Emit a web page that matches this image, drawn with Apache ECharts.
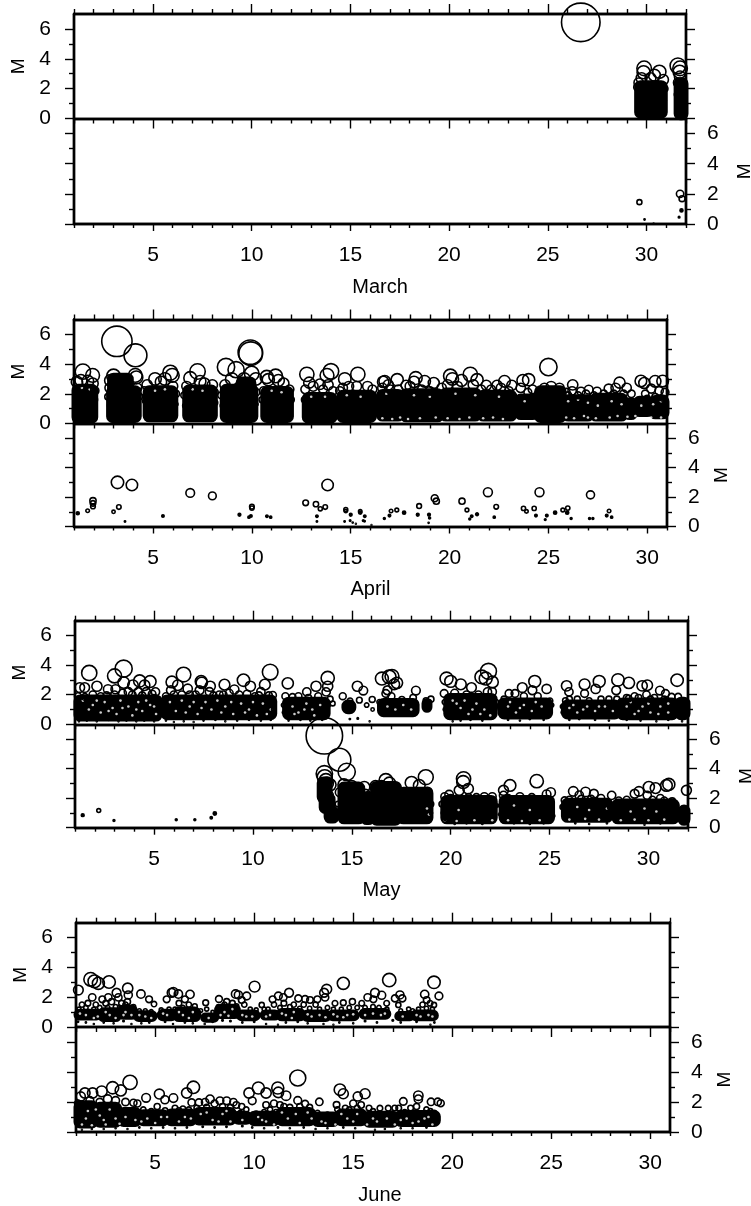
<!DOCTYPE html>
<html><head><meta charset="utf-8">
<style>html,body{margin:0;padding:0;background:#fff}#c{width:751px;height:1206px}</style>
<script src="https://cdn.jsdelivr.net/npm/echarts@6/dist/echarts.min.js"></script></head>
<body><div id="c"></div>
<script>
// Events are [day, magnitude]. Where the source is saturated and single events cannot be read,
// "Mass" arrays hold the black extent: [dayFrom, dayTo, Mlow, Mhigh].
// "Gap" arrays hold the white specks seen inside that mass: [day, magnitude].
const marTopEvents=[[26.67,6.44],[29.88,3.36],[29.85,3.1],[29.75,2.7],[29.6,2.4],[29.55,2.1],[29.6,1.5],[29.65,.8],[30.65,3.13],[30.4,2.9],[30.2,2.7],[30.85,2.6],[30.9,2.0],[30.9,1.2],[31.59,3.53],[31.7,3.36],[31.68,3.13],[31.7,2.8],[31.6,2.4],[31.55,1.6]];
const marTopMass=[[29.5,30.95,0.15,2.4],[31.5,32,0.05,2.6]];
const marLowEvents=[[29.64,1.45],[31.7,2],[31.8,1.68],[31.77,0.9],[31.65,0.45],[29.9,0.3],[30.36,0.05]];
const aprTopEvents=[[3.17,5.53],[4.11,4.59],[1.45,3.49],[1.94,3.24],[1.15,2.8],[1.35,2.9],[1.7,2.85],[1.95,2.7],[2.05,2.2],[2.05,1.6],[2.05,1,],[4.1,3.24],[4.15,3.1],[3.0,3.2],[2.85,2.9],[2.8,2.4],[2.72,1.8],[2.8,1.2],[2.9,.5],[4.2,2.4],[4.3,1.8],[4.2,1.2],[4.1,.5],[5.1,3.0],[5.87,3.42],[5.97,3.24],[4.7,2.6],[5.4,2.8],[5.6,3.0],[6.0,2.5],[4.55,2.2],[4.6,1.5],[4.7,.7],[6.15,2],[6.15,1.3],[6.1,.6],[7.25,3.5],[6.88,3.06],[7.38,2.84],[8.0,2.6],[7.6,2.7],[6.7,2.5],[6.58,1.9],[6.6,1.2],[6.7,.5],[8.1,2.1],[8.15,1.4],[8.1,.6],[8.69,3.8],[9.2,3.62],[8.98,3.0],[8.64,2.6],[8.45,1.9],[8.5,1.2],[8.6,.5],[9.92,4.8],[9.94,4.7],[9.99,3.36],[10.2,3.0],[9.6,3.0],[10.2,2.1],[10.2,1.3],[10.15,.6],[10.75,3.13],[11.2,3.2],[10.83,2.95],[11.34,2.9],[11.6,2.7],[10.6,2.2],[11.9,2.3],[10.5,1.6],[10.6,.8],[12,1.6],[11.95,.9],[12.78,3.31],[12.9,2.75],[14.0,3.51],[13.8,3.24],[13.44,2.64],[13.85,2.6],[13.1,2.5],[12.7,2.3],[13.6,2.3],[14.1,2.2],[12.65,1.6],[12.7,.9],[14.2,1.5],[14.15,.8],[14.7,3.0],[15.36,3.31],[15.85,2.5],[14.6,2.4],[14.9,2.5],[15.3,2.5],[16.1,2.3],[14.45,2.2],[14.4,1.5],[14.45,.8],[16.2,1.6],[16.2,.9],[16.64,2.8],[16.72,2.84],[16.6,2.4],[16.9,2.6],[17.35,2.95],[17.8,2.57],[18.29,3.06],[18.2,2.8],[18.74,2.84],[19.2,2.73],[18.0,2.5],[19.6,2.4],[20.04,3.2],[20.14,3.0],[20.6,2.9],[19.9,2.6],[20.4,2.5],[21.05,3.31],[21.39,2.95],[21.86,2.57],[21.2,2.6],[22.78,2.84],[22.4,2.57],[23.15,2.57],[22.6,2.4],[23.71,2.9],[24.0,2.95],[24.2,2.3],[23.96,2.1],[23.6,2.4],[25.0,3.8],[26.23,2.6],[25.56,2.4],[25.14,2.5],[24.8,2.4],[25.9,2.1],[26.2,2.2],[26.65,2.17],[27.04,2.28],[27.46,2.17],[26.9,2.0],[27.8,2.0],[28.05,2.35],[28.6,2.75],[28.4,2.4],[28.96,2.4],[29.2,2.0],[29.68,2.86],[29.85,2.73],[30.4,2.84],[30.78,2.86],[30.2,2.35],[30.6,2.2],[29.9,2.0],[30.9,2.1],[17,2.3],[17.4,2.3],[18.6,2.3],[19,2.2],[21.6,2.3],[22.1,2.3],[23,2.2],[26,1.9],[26.5,1.9],[27.3,1.9],[27.6,1.8],[28.3,2],[28.8,2],[30,1.7],[30.4,1.8],[30.8,1.7]];
const aprTopMass=[[1.0,2.1,0.15,2.5],[2.8,3.9,0.2,3.25],[2.75,4.3,0.2,2.4],[4.6,6.15,0.25,2.4],[6.6,8.15,0.25,2.45],[8.5,10.2,0.2,2.5],[9.3,10.1,1,3.0],[10.55,12,0.2,2.35],[12.65,14.2,0.15,1.95],[14.4,16.2,0.2,2.1],[16.4,17.6,0.3,2.15],[17.6,19.6,0.25,2.2],[19.6,21.5,0.3,2.25],[21.5,23.3,0.3,2.1],[23.4,24.4,0.4,1.85],[24.4,25.8,0.2,2.4],[25.8,27.2,0.3,1.8],[27.2,28.9,0.3,1.9],[28.9,29.4,0.4,1.6],[29.4,30.2,0.6,1.7],[30.2,31,0.45,1.75]];
const aprTopGap=[[16.6,.35],[17.1,.3],[17.5,.4],[17.9,.3],[18.5,.35],[19.3,.4],[19.9,.35],[20.5,.3],[21.0,.4],[21.7,.35],[22.2,.4],[22.7,.3],[25.9,.4],[26.3,.35],[26.8,.5],[27,.4],[27.4,.35],[28.1,.4],[28.5,.5],[29.0,.45],[29.4,.5],[30.2,.4],[30.7,.4],[26,1.5],[26.5,1.6],[27.0,1.4],[27.5,1.2],[28.2,1.5],[28.7,1.3],[29.7,1.2],[30.3,1.3],[30.7,1.5],[23.8,1.5],[16.8,2.0],[18.2,1.9],[19.0,1.8],[20.3,2.0],[21.3,1.9],[22.5,1.8],[1.4,2.4],[1.8,2.3],[5.1,2.2],[5.6,2.3],[7,2.3],[7.5,2.2],[11,2.2],[11.5,2.1],[13,1.8],[13.7,1.8],[14.8,1.9],[15.5,1.8]];
const aprLowEvents=[[3.2,3.0],[3.93,2.82],[6.88,2.28],[8.0,2.08],[13.83,2.82],[12.72,1.61],[13.24,1.52],[13.71,1.32],[13.46,1.2],[1.96,1.75],[1.96,1.57],[1.96,1.36],[3.27,1.32],[3.0,1.0],[1.69,1.07],[1.19,0.9],[3.58,.34],[5.5,.72],[9.37,.8],[10,1.25],[10,1.35],[9.85,.63],[9.95,.72],[10.76,.7],[10.95,.63],[13.29,.7],[13.29,.34],[14.75,1.16],[14.75,1.05],[15,.8],[14.69,.34],[14.97,.4],[15.1,.27],[15.26,.18],[15.48,1.03],[15.48,.95],[15.71,.7],[15.63,.4],[15.7,.35],[16.05,.11],[16.7,.54],[16.96,.74],[17.04,1.05],[17.33,1.12],[17.7,.94],[18.39,.8],[18.46,1.39],[18.96,.8],[18.99,.58],[18.94,.25],[19.25,1.92],[19.33,1.72],[20.63,1.72],[20.88,1.12],[21.12,.7],[21.02,.51],[21.39,.83],[21.94,2.33],[22.36,1.34],[22.26,.63],[23.74,1.23],[23.89,1.03],[24.28,1.23],[24.37,.74],[24.55,2.33],[24.92,.74],[24.84,.47],[25.34,.94],[25.73,1.12],[25.98,1.25],[25.95,.94],[26.15,.54],[27.13,2.15],[27.08,.54],[27.25,.54],[28.07,1.05],[27.95,.74],[28.2,.63]];
const mayTopEvents=[[1.72,3.47],[3,3.27],[3.46,3.76],[3.46,2.82],[2.11,2.57],[1.49,2.48],[1.24,2.48],[2.67,2.37],[3.05,2.37],[4.27,2.93],[4.8,2.89],[4.52,2.64],[3.93,2.64],[5.07,2.19],[1.9,2.0],[2.3,1.9],[3.4,2.1],[3.7,2.2],[4.2,2.2],[4.6,2.2],[5.0,1.8],[6.49,3.36],[5.9,2.86],[6.2,2.64],[5.6,1.9],[5.85,2.3],[6.7,2.4],[7.38,2.89],[7.41,2.8],[7.84,2.57],[7.3,2.3],[7.8,2.2],[8.56,2.68],[9.06,2.35],[9.52,2.98],[9.87,2.57],[8.3,2.0],[8.8,2.1],[9.3,2.0],[10.87,3.53],[10.6,2.68],[11,1.97],[10.4,2.2],[10.1,1.9],[11.76,2.77],[11.64,1.9],[12,1.85],[12.3,1.9],[12.72,2.19],[13.19,2.57],[13.78,3.13],[13.78,2.57],[13.7,2.19],[14.03,1.41],[13.3,1.9],[13.9,1.7],[14.54,1.9],[14.91,1.59],[15.28,2.57],[15.58,2.28],[15.38,1.63],[15.75,1.3],[16.03,1.68],[16.05,1],[16.52,3.09],[16.89,3.2],[16.72,2.08],[17.03,3.24],[17.28,2.8],[17.14,2.7],[16.8,2.3],[18.24,2.28],[17.53,1.68],[18.1,1.8],[16.6,1.5],[17,1.9],[19.79,3.09],[20,2.9],[20.51,2.7],[19.67,2.08],[21.05,2.48],[21.91,3.58],[21.57,3.2],[21.77,3.09],[22.11,2.86],[21.86,2.19],[20.2,2.1],[20.8,2.0],[21.4,2.0],[22.1,2.2],[22.95,2.08],[23.25,2.08],[23.62,2.48],[24.25,2.9],[24.13,2.3],[24.85,2.39],[25.02,1.59],[22.7,1.7],[23.7,1.9],[24.4,1.9],[25.86,2.6],[25.98,2.19],[26.77,2.7],[27.51,2.9],[27.33,2.39],[26.77,2.08],[28.46,3],[29.01,2.8],[29.68,2.6],[29.94,2.64],[28.37,2.3],[30.58,2.28],[30.86,2.08],[31.17,1.86],[31.45,2.98],[31.5,1.86],[25.8,1.6],[26.4,1.7],[27,1.6],[27.6,1.7],[28,1.7],[28.9,1.8],[29.3,1.9],[29.9,2.0],[30.1,1.7],[19.0,1.7],[18.9,1.5],[18.75,1.6],
[1.2,.2],[1.6,.25],[2.1,.2],[2.7,.3],[3.2,.2],[3.6,.25],[4.1,.2],[4.5,.25],[5,.2],[5.6,.25],[6,.15],[6.5,.2],[7,.15],[7.5,.25],[8.1,.3],[8.6,.2],[9.2,.25],[9.8,.3],[10.4,.25],[10.9,.3],[11.8,.25],[12.4,.3],[12.9,.25],[13.5,.3],[14.9,.35],[15.3,.4],[15.9,.2],[20.1,.2],[20.5,.25],[21,.3],[21.6,.25],[22.9,.3],[23.5,.25],[24,.35],[24.7,.3],[26,.3],[26.5,.35],[27.3,.3],[28,.25],[28.9,.3],[29.6,.25],[30.4,.2],[31,.3],[31.7,.2],
[1.15,1.9],[1.5,1.85],[2.6,1.95],[3,2],[3.9,2],[4.4,1.95],[4.9,2.05],[5.5,1.5],[5.5,1],[5.2,1],[5.25,1.5],[6,2],[6.4,2],[6.8,2],[7.1,2],[8,1.95],[8.5,2],[9.7,2.05],[10.3,1.95],[10.8,1.95],[11.05,1.5],[11.02,1],[11.55,1.3],[11.55,.8],[12.8,1.8],[13.8,1.3],[16.4,1.5],[18.25,1.3],[19.7,1.5],[19.7,1],[22.3,1.5],[22.25,1],[22.45,1.2],[25.1,1.3],[25.05,.9],[25.65,1.2],[25.65,.8],[26,1.7],[28.4,1.7],[29,1.75],[29.5,1.8],[30.3,1.8],[30.8,1.7]];
const mayTopMass=[[1.05,5.3,0.35,1.85],[5.45,11.1,0.45,1.85],[11.6,13.8,0.45,1.7],[14.6,15.1,0.85,1.5],[16.4,18.3,0.65,1.6],[18.65,18.95,0.95,1.6],[19.75,22.25,0.45,1.95],[22.5,25.05,0.5,1.65],[25.7,28.5,0.5,1.5],[28.5,31.4,0.45,1.65],[31.45,32,0.45,1.7]];
const mayTopGap=[[1.4,1.6],[1.9,1.3],[2.3,.8],[2.5,1.5],[2.9,1.1],[3.1,.7],[3.3,1.6],[3.7,1.2],[3.9,.6],[4.2,1.5],[4.4,.9],[4.8,1.3],[5.1,.7],[5.8,1.5],[6.1,.9],[6.4,1.6],[6.8,1.2],[7.2,.7],[7.6,1.5],[7.9,1.0],[8.2,1.6],[8.6,1.2],[9.0,.7],[9.4,1.4],[9.8,1.0],[10.2,.6],[10.5,1.4],[10.9,1.0],[12,1.2],[12.3,.8],[12.7,1.4],[13,1.0],[13.4,1.3],[16.8,1.2],[17.2,1.0],[17.6,1.3],[18,1.0],[20.1,1.6],[20.5,1.1],[20.9,.7],[21.3,1.4],[21.7,1.0],[22,.6],[22.9,1.2],[23.3,.8],[23.7,1.3],[24.1,.9],[24.6,1.2],[26,1.1],[26.4,.8],[26.9,1.2],[27.3,.9],[27.8,1.2],[28.9,1.2],[29.3,.7],[29.7,1.2],[30.1,.8],[30.6,1.2],[31,.8],[1.7,1],[2.1,1.6],[2.7,.9],[3.4,1.1],[4.1,1],[4.6,1.6],[5,1.2],[6.6,.8],[7,1.5],[7.4,1.1],[8.4,.8],[8.9,1.5],[9.6,.8],[10,1.5],[10.7,.7],[12.1,.7],[12.6,1],[13.1,.6],[20.3,1.4],[20.7,1.6],[21.1,1],[21.5,.7],[23,1.5],[23.5,1.1],[24.3,1.5],[26.2,1.3],[26.7,1],[27.5,1.2],[28.2,.9],[29.1,1.5],[29.5,.9],[30,1.4],[30.5,.7],[31,1.4]];
const mayLowEvents=[[13.61,6.22],[14.37,4.6],[14.74,3.78],[13.61,3.65],[13.63,3.42],[13.69,3.2],[13.75,3.0],[13.6,2.8],[13.9,2.9],[14.6,2.9],[15,2.8],[15.63,2.75],[15.7,2.3],[16.72,3.2],[16.5,2.8],[16.2,2.8],[16.9,3.0],[17.2,2.7],[18.02,3.04],[18.41,2.86],[18.74,3.42],[18.83,2.42],[18.8,2.0],[20.65,3.31],[20.63,3.09],[20.88,2.64],[20.43,2.53],[19.92,2.24],[19.7,2.1],[22.1,2.1],[23,2.86],[22.67,2.53],[22.67,2.19],[24.35,3.15],[25.06,2.39],[24.85,2.26],[26.2,2.46],[25.76,1.86],[26.82,2.42],[27.24,2.3],[26.5,2.2],[27.6,2.0],[28.14,2.19],[29.52,2.46],[29.3,2.3],[30.02,2.75],[30.36,2.68],[31.03,2.93],[30.91,2.86],[31.92,2.53],[29.94,2.19],[30.6,2.0],[1.39,.85],[2.2,1.16],[2.97,.49],[6.12,.54],[7.06,.54],[7.89,.67],[8.07,.96],
[13.55,2.2],[13.7,2.2],[13.85,2.2],[13.8,1.6],[14,1.6],[13.95,1],[14.1,.7],[13.95,.5],[14.4,2.4],[14.3,1.6],[14.4,.9],[15.5,1.2],[15.4,.6],[16.05,1.2],[16.1,.5],[19,1.6],[19,1],[19.55,1.6],[19.6,1],[19.7,.55],[22.25,1.5],[22.25,.9],[22.55,1.5],[22.5,.9],[25.1,1.5],[25.2,.8],[25.65,1.4],[25.7,.8],[28.05,1.4],[28.1,.8],[28.3,1.5],[28.25,.9],[31.4,1.5],[31.4,.8],[20.2,.25],[20.8,.3],[21.6,.25],[23.2,.3],[24,.25],[24.7,.3],[26.3,.3],[27,.25],[27.9,.3],[29,.35],[29.8,.2],[30.6,.3],[20,2],[20.9,2.05],[21.3,2.05],[21.7,2.1],[22.9,2],[23.5,2.1],[24.1,2.05],[26,1.9],[26.6,1.95],[27.1,1.95],[28.5,1.85],[28.9,1.9],[30.2,1.9],[30.8,1.85],[31.2,1.8]];
const mayLowMass=[[13.35,13.9,1.8,3.3],[13.45,14.05,1.1,2.2],[13.7,14.25,.45,1.3],[14.4,15.55,.4,2.95],[15.55,16.05,.35,2.3],[16.05,17.4,.3,3.0],[17.4,19.0,.4,2.6],[19.6,22.25,.4,2.05],[22.55,25.15,.4,2.05],[25.7,28.1,.5,1.85],[28.25,31.45,.4,1.8],[31.6,32,.3,1.4]];
const mayLowGap=[[19.7,.5],[20.3,.45],[21.2,.5],[22.1,.5],[22.9,.5],[23.6,.45],[24.5,.5],[26.0,.55],[26.8,.6],[27.5,.55],[28.6,.5],[29.3,.55],[30,.5],[30.8,.55],[26.4,1.4],[27,1.2],[27.9,1.3],[29.1,1.1],[29.8,1.3],[30.4,1.1],[23.2,1.5],[24,1.2],[18.8,1.3],[18.9,.9],[20.4,1.2]];
const junTopEvents=[[1.12,2.48],[1.74,3.2],[1.93,3.06],[2.13,2.93],[2.67,3.02],[3.61,2.6],[3.05,2.3],[1.82,1.99],[4.28,2.21],[3.64,2.15],[2.63,1.99],[2.33,1.86],[3.14,1.99],[4.69,1.86],[4.94,1.54],[5.83,2.3],[5.92,2.35],[6.17,2.21],[6.76,2.19],[6.5,1.86],[5.58,1.86],[7.55,1.63],[8.22,1.88],[9.06,2.21],[9.2,2.15],[9.62,2.08],[9.37,1.81],[10.02,2.71],[8.61,1.7],[10.38,1.48],[10.93,1.86],[11.22,2.08],[11.76,2.3],[11.47,1.99],[12.23,1.92],[12.57,1.88],[12.82,1.81],[13.19,1.86],[13.66,2.53],[13.53,2.3],[13.58,1.99],[14.5,2.93],[14.08,1.59],[14.5,1.63],[14.96,1.7],[16.82,3.15],[16.1,2.3],[15.73,1.99],[16.44,2.13],[16.02,1.86],[16.69,1.59],[15.43,1.59],[17.36,2.15],[17.11,1.92],[17.48,1.92],[17.28,1.48],[19.08,3],[18.61,2.19],[19.33,2.08],[18.71,1.81],[18.88,1.59],[19.08,1.48],[1.3,1.5],[1.6,1.6],[2.0,1.5],[2.5,1.6],[2.8,1.7],[3.3,1.6],[3.6,1.7],[6.2,1.6],[6.7,1.5],[7,1.4],[11,1.5],[11.5,1.6],[12,1.5],[12.5,1.5],[13.1,1.5],[15.2,1.3],[18.5,1.5],[19,1.2],[18.3,1.2],[8.9,1.6],[9.5,1.5],[10.5,1.2],
[1.15,1.2],[1.5,1.3],[1.9,1.2],[2.2,1.3],[2.6,1.3],[3,1.35],[3.2,1.3],[3.5,1.5],[3.9,1.35],[4.2,1.1],[4.5,1.1],[4.8,1.05],[5.3,1.15],[5.7,1.2],[6,1.2],[6.4,1.3],[7.3,1.1],[7.6,1.2],[7.9,1],[8.2,1.35],[8.5,1.5],[9.1,1.4],[9.8,1.2],[10.1,1.15],[10.7,1.2],[11.3,1.3],[11.8,1.35],[12.3,1.25],[12.8,1.25],[13.3,1.2],[13.7,1.3],[14,1.2],[14.4,1.2],[14.8,1.3],[15.6,1.3],[16,1.35],[16.3,1.3],[16.7,1.2],[17.4,1.1],[17.8,1.2],[18,1.1],[18.7,1.25],[1.1,.35],[1.5,.3],[1.9,.2],[2.4,.3],[2.9,.25],[3.4,.4],[3.8,.2],[4.3,.25],[4.7,.3],[5.5,.35],[5.9,.2],[6.5,.3],[6.9,.25],[7.5,.2],[7.9,.35],[8.4,.45],[8.8,.4],[9.4,.3],[10,.35],[10.6,.2],[11.2,.15],[11.6,.3],[12.2,.35],[12.7,.25],[13.5,.2],[14,.15],[14.3,.3],[15,.25],[15.6,.4],[16.2,.3],[17,.45],[17.4,.3],[18.2,.35],[18.9,.15],[19.1,.3]];
const junTopMass=[[1,2.2,.6,1.05],[2.2,3.2,.5,1.15],[3.2,4.0,.65,1.35],[4.0,5.0,.5,.95],[5.2,6.0,.55,1.05],[6.0,7.2,.5,1.2],[7.4,8.1,.45,.8],[8.1,9.2,.7,1.4],[9.2,10.2,.55,1],[10.4,11.2,.6,1],[11.2,12.5,.55,1.1],[12.5,13.8,.5,1],[13.8,15.2,.55,1],[15.4,16.8,.65,1.1],[17.2,18,.55,.9],[18,19.2,.55,1]];
const junTopGap=[[1.5,.8],[2.1,.7],[2.7,.8],[3.5,1],[3.8,.8],[4.5,.7],[5.6,.8],[6.4,.8],[6.9,1],[8.5,1],[8.9,1.2],[9.6,.7],[10.8,.8],[11.6,.8],[12,1],[12.9,.7],[13.3,.8],[14.2,.7],[14.7,.8],[16,.9],[16.4,.8],[18.4,.7],[18.8,.8],[1.2,.9],[1.9,.6],[2.5,1],[3,.6],[3.4,.8],[4.2,.8],[4.8,.6],[5.4,.9],[6.2,1],[6.7,.6],[7.7,.6],[8.3,.8],[8.7,.75],[9.4,.8],[9.9,.7],[10.6,.7],[11.4,.9],[11.9,.6],[12.7,.85],[13.6,.65],[14,.85],[14.5,.65],[15,.85],[15.6,.8],[16.6,.9],[17.5,.7],[18.2,.8],[19,.7]];
const junLowEvents=[[3.73,3.31],[2.85,2.95],[3.26,2.77],[2.3,2.71],[1.84,2.6],[1.45,2.6],[1.24,2.37],[4.54,2.28],[5.21,2.53],[5.49,2.15],[5.92,2.26],[6.93,2.98],[6.59,2.6],[6.84,1.97],[7.77,2.19],[7.21,1.97],[7.52,1.99],[8.27,2.08],[8.61,2.08],[8.95,1.99],[9.37,1.7],[9.74,2.6],[10.21,2.93],[10.6,2.6],[11.19,2.93],[11.22,2.64],[11.61,2.42],[9.9,2.08],[12.2,3.6],[12.2,2.1],[12.57,1.88],[13.29,2.01],[14.33,2.82],[14.5,2.55],[15.6,2.55],[15.23,2.37],[14.16,1.81],[18.29,2.42],[18.29,2.19],[17.53,2.04],[18.93,2.01],[19.27,2.01],[19.42,1.92],[16.35,1.59],[16.77,1.59],[3.5,2.0],[3.9,1.95],[4.1,1.9],[5.1,1.7],[6,1.6],[6.4,1.55],[8,1.9],[9.1,1.8],[9.6,1.5],[10.6,1.8],[11,1.9],[11.3,1.8],[11.5,1.7],[10.8,1.5],[15,1.9],[15.4,1.8],[15.8,1.6],[17.1,1.6],[17.9,1.6],[18.2,1.7],[18.7,1.5],[14.8,1.5],[16,1.4],[17.3,1.6],[18.9,1.4],
[4.4,1.5],[4.8,1.4],[5.5,1.45],[6.2,1.45],[6.7,1.5],[7.1,1.6],[7.6,1.65],[8.4,1.7],[8.8,1.65],[9.3,1.3],[10.1,1.25],[10.5,1.35],[11.1,1.35],[11.8,1.65],[12.3,1.7],[12.8,1.65],[13.2,1.3],[13.7,1.2],[14.2,1.5],[14.6,1.6],[15.2,1.6],[16.3,1.25],[16.9,1.25],[17.6,1.35],[18.1,1.3],[18.6,1.3],[19.1,1.3],[19.2,.9],[19.25,.6],[1.3,.15],[1.8,.2],[2.4,.2],[3,.25],[3.6,.2],[4.2,.3],[4.8,.25],[5.4,.3],[6,.25],[6.6,.3],[7.4,.35],[8,.3],[8.6,.35],[9.4,.4],[9.9,.3],[10.5,.25],[11.2,.3],[11.8,.25],[12.5,.3],[13.1,.2],[13.7,.25],[14.5,.3],[15.1,.25],[16.1,.15],[16.6,.2],[17.4,.25],[18,.25],[18.7,.3],[1.1,1.9],[1.7,2.1],[2.2,2],[2.6,2.2],[3,2.1]];
const junLowMass=[[1,2.0,.4,1.95],[2,3.2,.45,1.85],[3.2,4.2,.5,1.5],[4.2,5.6,.55,1.35],[5.6,7,.55,1.4],[7,9,.6,1.5],[9,9.8,.65,1.25],[9.8,11.2,.55,1.25],[11.2,13,.55,1.5],[13,14.2,.5,1.2],[14.2,15.6,.55,1.4],[15.6,17.2,.45,1.25],[17.2,19.3,.5,1.3]];
const junLowGap=[[1.3,.5],[1.8,.45],[2.5,.5],[3.2,.55],[1.6,1.4],[2.2,1.1],[2.7,1.5],[3,.9],[3.5,1.0],[4,.8],[4.6,.9],[5,.6],[5.6,1],[6.2,.7],[6.8,.9],[7.3,1.2],[7.9,.8],[8.4,1.2],[8.8,.7],[9.4,.8],[10.2,1],[10.6,.7],[11,.5],[11.7,.9],[12.3,.6],[12.9,.9],[13.6,.6],[14.1,.5],[14.7,.9],[15.2,1.2],[15.7,.5],[16.2,.7],[16.7,.9],[17.1,.5],[17.7,.9],[18.3,.7],[18.8,1.0],[19,.5],[1.5,.9],[2,1.5],[2.4,.8],[4.3,.7],[5.3,1],[6.5,1],[7.6,1.3],[8.2,.7],[8.6,1.4],[10.4,.8],[11.4,1.3],[12.1,1.2],[12.7,1.3],[13.4,.7],[14.4,1.2],[15,.7],[16,.9],[17.4,.8],[18,.6],[18.6,.9]];

const monthNames=['March','April','May','June'];
const monthEnds=[32,31,32,31];
const majorDays=[5,10,15,20,25,30];
const yMajor=[0,2,4,6];
const yMinor=[1,3,5];
const allDays=[];for(let d=1;d<=32;d++)allDays.push(d);
const panelData=[
 [[marTopEvents,marTopMass,[]],[marLowEvents,[],[]]],
 [[aprTopEvents,aprTopMass,aprTopGap],[aprLowEvents,[],[]]],
 [[mayTopEvents,mayTopMass,mayTopGap],[mayLowEvents,mayLowMass,mayLowGap]],
 [[junTopEvents,junTopMass,junTopGap],[junLowEvents,junLowMass,junLowGap]]
];
const layout=[
 {left:74,width:612,t:14,m:118.5,b:224,nameShift:0},
 {left:74,width:593,t:319.5,m:423.5,b:526.5,nameShift:0},
 {left:75,width:613,t:620.7,m:724.3,b:827.7,nameShift:0},
 {left:76,width:594,t:922.7,m:1027,b:1132,nameShift:7}
];
const FONT='"Liberation Sans",Arial,sans-serif';
const dia=m=>0.5+2.3*m+0.56*m*m;
const grids=[],xAxes=[],yAxes=[],series=[];
function xA(g,pos,end,vals,len,opt){
 const a=Object.assign({type:'value',gridIndex:g,position:pos,min:1,max:end,z:6,silent:true,
  splitLine:{show:false},
  axisLine:{show:true,onZero:false,lineStyle:{color:'#000',width:2.4}},
  axisTick:{show:true,customValues:vals,length:len,lineStyle:{color:'#000',width:1.4}},
  axisLabel:{show:false}},opt||{});
 xAxes.push(a);return xAxes.length-1;
}
function yA(g,pos,vals,len,opt){
 const a=Object.assign({type:'value',gridIndex:g,position:pos,min:0,max:7,z:6,silent:true,
  splitLine:{show:false},
  axisLine:{show:true,onZero:false,lineStyle:{color:'#000',width:2.4}},
  axisTick:{show:true,customValues:vals,length:len,lineStyle:{color:'#000',width:1.4}},
  axisLabel:{show:false}},opt||{});
 yAxes.push(a);return yAxes.length-1;
}
const digit={show:true,color:'#000',fontFamily:FONT,fontSize:21};
layout.forEach((L,mi)=>{
 const end=monthEnds[mi];
 const minor=allDays.filter(d=>d<=end&&!majorDays.includes(d));
 [0,1].forEach(pi=>{
  const top=pi?L.m:L.t,bot=pi?L.b:L.m;
  const g=grids.length;
  grids.push({left:L.left,width:L.width,top:top,height:bot-top,outerBoundsMode:'none',containLabel:false});
  const lowerOpt=pi?{axisLabel:Object.assign({},digit,{customValues:majorDays,margin:21}),
    name:monthNames[mi],nameLocation:'middle',nameGap:53,
    nameTextStyle:{color:'#000',fontFamily:FONT,fontSize:20,padding:[0,0,0,L.nameShift*2]}}:{};
  const xi=xA(g,'bottom',end,majorDays,pi?7:10,lowerOpt);
  xA(g,'bottom',end,minor,pi?4:5);
  if(!pi){xA(g,'top',end,majorDays,10);xA(g,'top',end,minor,5);}
  const mName=gap=>({name:'M',nameLocation:'middle',nameGap:gap,nameRotate:90,
    nameTextStyle:{color:'#000',fontFamily:FONT,fontSize:19}});
  const labelOpt=(mar,gap)=>Object.assign({axisLabel:Object.assign({},digit,{customValues:yMajor,margin:mar})},mName(gap));
  const yi=yA(g,'left',yMajor,9,pi?{}:labelOpt(23,46));
  yA(g,'left',yMinor,5);
  yA(g,'right',yMajor,9,pi?labelOpt(21,mi%2?45:49):{});
  yA(g,'right',yMinor,5);
  const [ev,mass,gap]=panelData[mi][pi];
  series.push({type:'custom',xAxisIndex:xi,yAxisIndex:yi,z:2,silent:true,animation:false,
   data:mass,encode:{x:[0,1],y:[2,3]},
   renderItem:(p,api)=>{
    const a=api.coord([api.value(0),api.value(3)]),b=api.coord([api.value(1),api.value(2)]);
    return {type:'rect',shape:{x:a[0],y:a[1],width:b[0]-a[0],height:b[1]-a[1],r:4},style:{fill:'#000',stroke:'#000',lineWidth:5,lineJoin:'round'}};
   }});
  series.push({type:'scatter',xAxisIndex:xi,yAxisIndex:yi,z:3,silent:true,animation:false,
   data:gap,symbolSize:2.6,itemStyle:{color:'#fff',borderWidth:0}});
  series.push({type:'scatter',xAxisIndex:xi,yAxisIndex:yi,z:4,silent:true,animation:false,clip:true,
   data:ev,symbolSize:v=>dia(v[1]),
   itemStyle:{color:p=>p.value[1]<1?'#000':'rgba(0,0,0,0)',borderColor:'#000',borderWidth:1.6,opacity:1}});
 });
});
const chart=echarts.init(document.getElementById('c'),null,{renderer:'canvas'});
chart.setOption({animation:false,backgroundColor:'#fff',grid:grids,xAxis:xAxes,yAxis:yAxes,series:series});
</script></body></html>
